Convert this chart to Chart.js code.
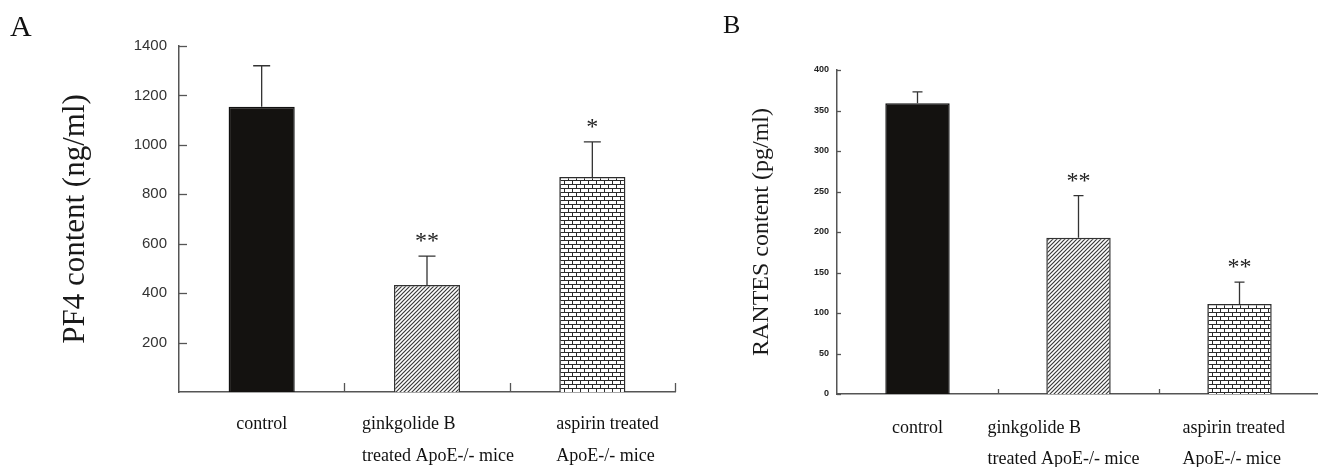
<!DOCTYPE html>
<html>
<head>
<meta charset="utf-8">
<script src="https://cdn.jsdelivr.net/npm/chart.js@4.4.0/dist/chart.umd.min.js"></script>
<style>
html, body { margin: 0; padding: 0; background: #fff; overflow: hidden; width: 1318px; height: 467px; }
#wrapA { position: absolute; left: 0; top: 0; }
#wrapB { position: absolute; left: 680px; top: 0; }
</style>
</head>
<body>
<div id="wrapA"><canvas id="chartA" width="680" height="467"></canvas></div>
<div id="wrapB"><canvas id="chartB" width="640" height="467"></canvas></div>
<script>
// 数据
const groups = [['control'], ['ginkgolide B', 'treated ApoE-/- mice'], ['aspirin treated', 'ApoE-/- mice']];

const pf4Means = [1154, 433, 870];
const pf4Errors = [166, 117, 142];
const pf4Stars = ['', '**', '*'];
const pf4Ticks = [200, 400, 600, 800, 1000, 1200, 1400];

const rantesMeans = [359, 193, 111];
const rantesErrors = [14, 52, 27];
const rantesStars = ['', '**', '**'];
const rantesTicks = [0, 50, 100, 150, 200, 250, 300, 350, 400];

// 填充图案
function hatchPattern() {
    const c = document.createElement('canvas');
    c.width = 4; c.height = 4;
    const g = c.getContext('2d');
    g.fillStyle = '#fff';
    g.fillRect(0, 0, 4, 4);
    g.strokeStyle = '#3a3a3a';
    g.lineWidth = 1.2;
    g.beginPath();
    g.moveTo(0, 4); g.lineTo(4, 0);
    g.moveTo(-1, 1); g.lineTo(1, -1);
    g.moveTo(3, 5); g.lineTo(5, 3);
    g.stroke();
    return g.createPattern(c, 'repeat');
}

function brickPattern() {
    const c = document.createElement('canvas');
    c.width = 8; c.height = 8;
    const g = c.getContext('2d');
    g.fillStyle = '#fff';
    g.fillRect(0, 0, 8, 8);
    g.fillStyle = '#2b2b2b';
    g.fillRect(0, 0, 8, 1);
    g.fillRect(0, 4, 8, 1);
    g.fillRect(0, 0, 1, 4);
    g.fillRect(4, 4, 1, 4);
    return g.createPattern(c, 'repeat');
}

// 误差线、星号、内侧刻度、分类标签、面板字母
const panelDecor = {
    id: 'panelDecor',
    afterDatasetsDraw(chart, args, o) {
        const { ctx, chartArea } = chart;
        const x = chart.scales.x, y = chart.scales.y;
        const ds = chart.data.datasets[0];
        const meta = chart.getDatasetMeta(0);
        ctx.save();

        ctx.strokeStyle = '#333';
        ctx.lineWidth = 1.3;
        meta.data.forEach((bar, i) => {
            const top = y.getPixelForValue(ds.data[i] + ds.errors[i]);
            ctx.beginPath();
            ctx.moveTo(bar.x, bar.y);
            ctx.lineTo(bar.x, top);
            ctx.moveTo(bar.x - o.cap, top);
            ctx.lineTo(bar.x + o.cap, top);
            ctx.stroke();
            if (ds.stars[i]) {
                ctx.font = o.starFont;
                ctx.fillStyle = '#222';
                ctx.textAlign = 'center';
                ctx.textBaseline = 'alphabetic';
                ctx.fillText(ds.stars[i], bar.x, top - o.starGap);
            }
        });

        ctx.strokeStyle = '#555';
        ctx.lineWidth = 1.3;
        y.ticks.forEach(t => {
            const py = Math.round(y.getPixelForValue(t.value)) + 0.5;
            ctx.beginPath();
            ctx.moveTo(chartArea.left, py);
            ctx.lineTo(chartArea.left + o.yTick, py);
            ctx.stroke();
        });

        const step = x.getPixelForValue(1) - x.getPixelForValue(0);
        for (let i = 0; i < chart.data.labels.length; i++) {
            const px = Math.round(x.getPixelForValue(i) + step / 2) + 0.5;
            ctx.beginPath();
            ctx.moveTo(px, chartArea.bottom);
            ctx.lineTo(px, chartArea.bottom - o.xTick);
            ctx.stroke();
        }

        ctx.font = o.labelFont;
        ctx.fillStyle = '#111';
        ctx.textBaseline = 'alphabetic';
        chart.data.labels.forEach((lines, i) => {
            const cx = x.getPixelForValue(i);
            const dx = o.labelDx[i];
            ctx.textAlign = dx === null ? 'center' : 'left';
            lines.forEach((s, j) => ctx.fillText(s, dx === null ? cx : cx + dx, o.labelBase[j]));
        });

        ctx.font = o.letterFont;
        ctx.textAlign = 'left';
        ctx.fillText(o.letter, o.letterX, o.letterY);
        ctx.restore();
    }
};

function makeChart(id, means, errors, stars, ticks, cfg) {
    const ctx = document.getElementById(id).getContext('2d');
    return new Chart(ctx, {
        type: 'bar',
        data: {
            labels: groups,
            datasets: [{
                data: means,
                errors: errors,
                stars: stars,
                backgroundColor: ['#141210', hatchPattern(), brickPattern()],
                borderColor: ['#111', '#333', '#2b2b2b'],
                borderWidth: 1.5,
                barPercentage: 0.4,
                categoryPercentage: 1
            }]
        },
        options: {
            responsive: false,
            animation: false,
            layout: { padding: cfg.padding },
            plugins: {
                legend: { display: false },
                tooltip: { enabled: false },
                panelDecor: cfg.decor
            },
            scales: {
                x: {
                    type: 'category',
                    offset: true,
                    grid: { display: false, drawTicks: false },
                    border: { display: true, color: '#555', width: 1.5 },
                    ticks: { display: false },
                    afterFit: s => { s.height = 0; }
                },
                y: {
                    min: 0,
                    max: cfg.max,
                    afterBuildTicks: s => { s.ticks = ticks.map(v => ({ value: v })); },
                    afterFit: s => { s.width = cfg.yWidth; },
                    grid: { display: false, drawTicks: false },
                    border: { display: true, color: '#555', width: 1.5 },
                    ticks: { color: cfg.tickColor, font: cfg.tickFont, padding: cfg.tickPad, callback: v => String(v) },
                    title: {
                        display: true,
                        text: cfg.title,
                        color: '#1a1a1a',
                        font: cfg.titleFont,
                        padding: { top: cfg.titlePad, bottom: 0 }
                    }
                }
            }
        },
        plugins: [panelDecor]
    });
}

makeChart('chartA', pf4Means, pf4Errors, pf4Stars, pf4Ticks, {
    padding: { left: 0, right: 5, top: 46, bottom: 75 },
    max: 1400,
    yWidth: 179,
    tickColor: '#333',
    tickFont: { family: 'Liberation Sans', size: 15 },
    tickPad: 12,
    title: 'PF4 content (ng/ml)',
    titleFont: { family: 'Liberation Serif', size: 31 },
    titlePad: 57,
    decor: {
        cap: 8.5, yTick: 8, xTick: 9, starGap: 8,
        starFont: '24px "Liberation Serif"',
        labelFont: '18px "Liberation Serif"',
        labelDx: [null, -65, -36],
        labelBase: [429, 461],
        letter: 'A', letterX: 10, letterY: 36,
        letterFont: '30px "Liberation Serif"'
    }
});

makeChart('chartB', rantesMeans, rantesErrors, rantesStars, rantesTicks, {
    padding: { left: 0, right: 0, top: 70, bottom: 73 },
    max: 400,
    yWidth: 157,
    tickColor: '#222',
    tickFont: { family: 'Liberation Sans', size: 9, weight: 'bold' },
    tickPad: 8,
    title: 'RANTES content (pg/ml)',
    titleFont: { family: 'Liberation Serif', size: 24 },
    titlePad: 67,
    decor: {
        cap: 5, yTick: 4, xTick: 5, starGap: 8,
        starFont: '24px "Liberation Serif"',
        labelFont: '18px "Liberation Serif"',
        labelDx: [null, -91, -57],
        labelBase: [433, 464],
        letter: 'B', letterX: 43, letterY: 33,
        letterFont: '26px "Liberation Serif"'
    }
});
</script>
</body>
</html>
